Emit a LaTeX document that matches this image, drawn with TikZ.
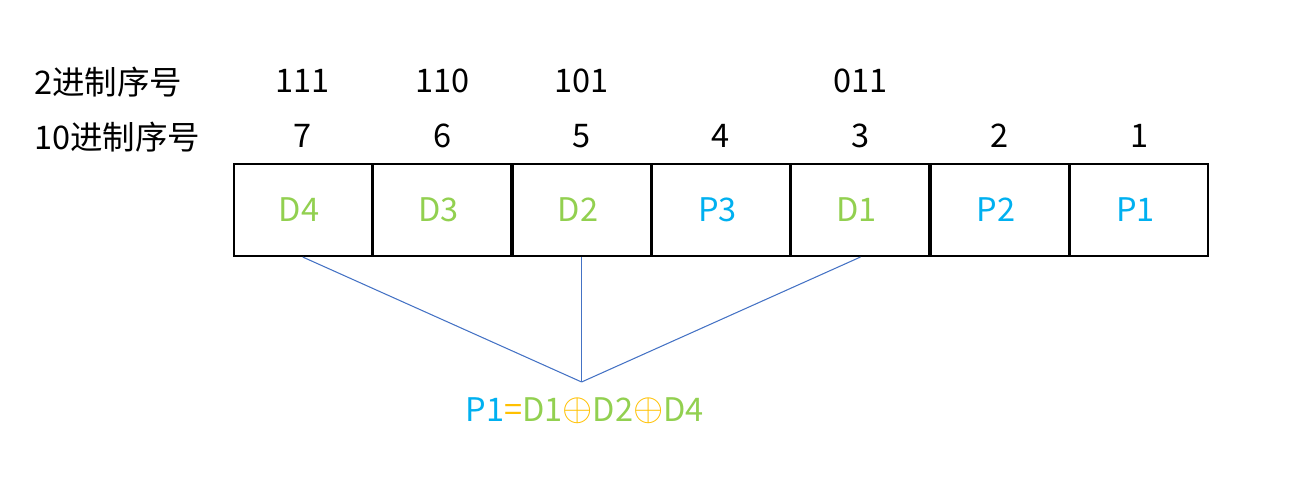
\documentclass[tikz,border=0pt]{standalone}
\usepackage{fontspec}
\setmainfont{Noto Sans CJK SC}
\usepackage{tikz}
\usetikzlibrary{matrix, positioning, calc}
\definecolor{dgreen}{HTML}{92D050}
\definecolor{pcyan}{HTML}{00B0F0}
\definecolor{xorange}{HTML}{FFC000}
\definecolor{lblue}{HTML}{4472C4}
\newcommand{\xorsign}{\textcolor{xorange}{\raisebox{0.03em}{\scalebox{1.28}{$\oplus$}}}}

\begin{document}
\begin{tikzpicture}[font=\fontsize{18.5}{22}\selectfont]
\tikzset{bit row/.style={
    matrix of nodes, ampersand replacement=\&,
    column sep=-\pgflinewidth, row sep=-\pgflinewidth,
    nodes={draw, line width=1.2pt,
      minimum height=1.84cm,
      minimum width=2.76cm,
      anchor=center,
      align=center,
      inner sep=0pt
    },
  },
  dcell/.style={text=dgreen},
  pcell/.style={text=pcyan},
  seqlabel/.style={inner sep=0pt},
  link/.style={lblue, line width=0.6pt}
}
\useasboundingbox (0,0) rectangle (26.18,-9.82);

\matrix[bit row](St) at (14.42,-4.2)
{
|[dcell]| D4 \& |[dcell]| D3 \& |[dcell]| D2 \& |[pcell]| P3 \& |[dcell]| D1 \& |[pcell]| P2 \& |[pcell]| P1 \\
};

% row labels
\node[seqlabel, anchor=west] (binlabel) at (0.68,-1.64) {2进制序号};
\node[seqlabel, anchor=west] (declabel) at (0.68,-2.74) {10进制序号};

% decimal and binary positions
\foreach \d [count=\i] in {7,...,1}
  \node[seqlabel] (dec\d) at ([yshift=0.54cm]St-1-\i.north) {\d};
\foreach \b/\i in {111/1,110/2,101/3,011/5}
  \node[seqlabel] (bin\i) at ([yshift=1.64cm]St-1-\i.north) {\b};

% parity check
\coordinate (apex) at (St-1-3.south |- 0,-7.64);
\draw[link] (St-1-1.south) -- (apex);
\draw[link] (St-1-3.south) -- (apex);
\draw[link] (St-1-5.south) -- (apex);
\node[seqlabel] (formula) at ([xshift=0.06cm, yshift=-0.58cm]apex)
  {\textcolor{pcyan}{P1}\textcolor{xorange}{=}\textcolor{dgreen}{D1}\xorsign\textcolor{dgreen}{D2}\xorsign\textcolor{dgreen}{D4}};
\end{tikzpicture}
\end{document}
